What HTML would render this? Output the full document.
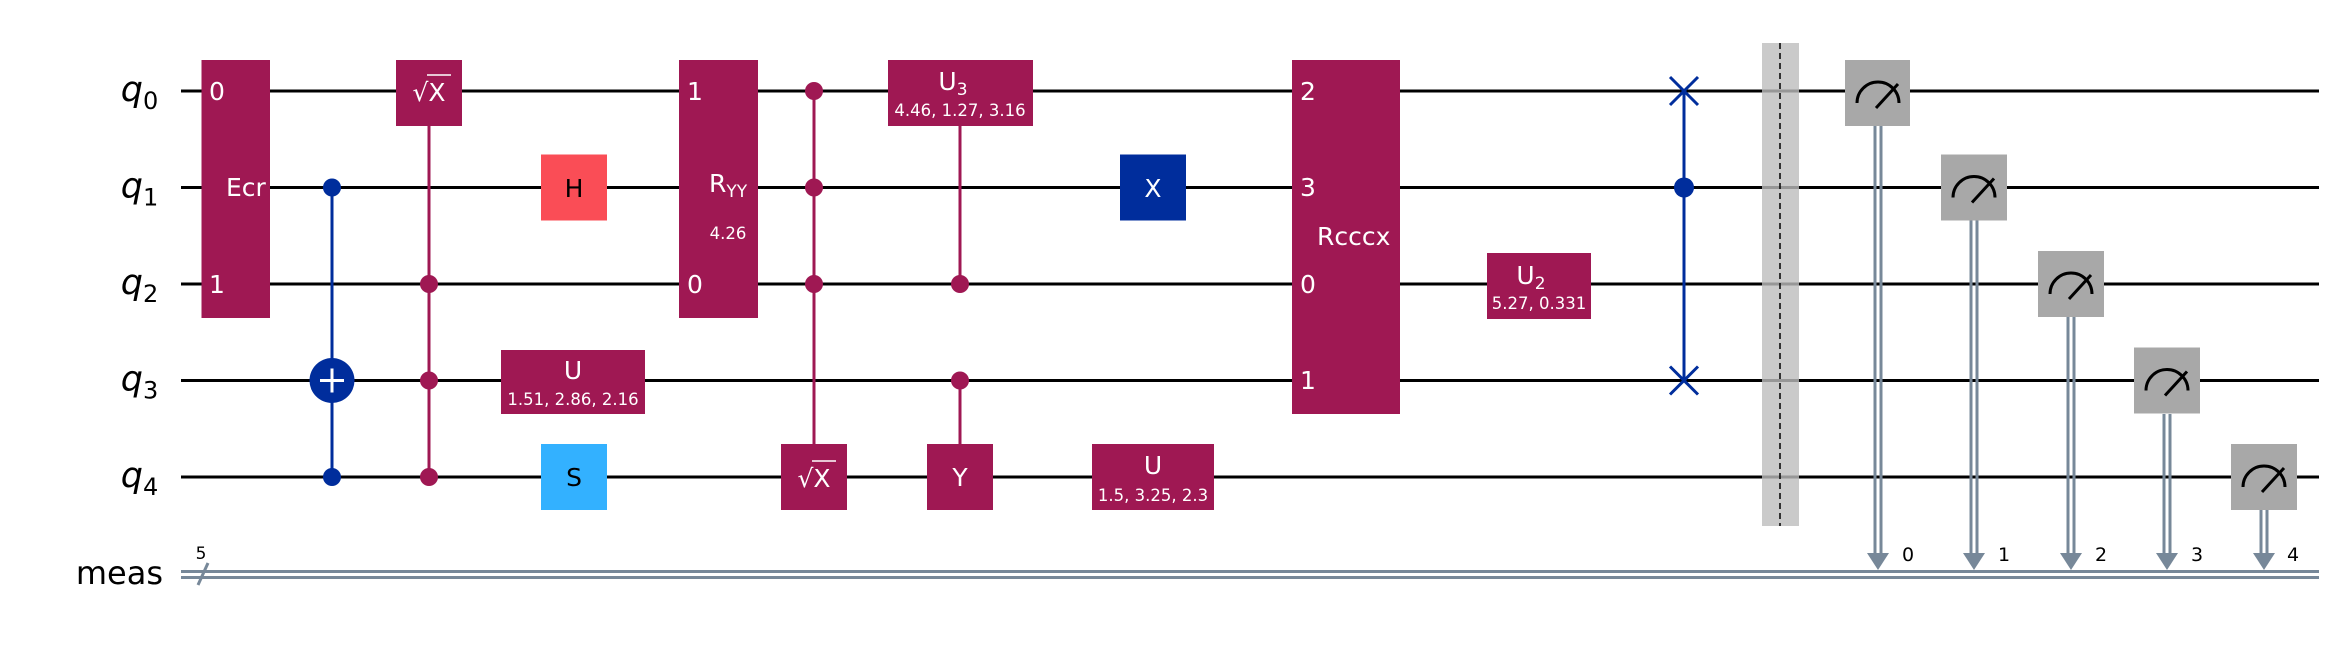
<!DOCTYPE html>
<html><head><meta charset="utf-8"><style>html,body{margin:0;padding:0;background:#fff}svg{display:block}</style></head>
<body>
<svg width="2342" height="648" viewBox="0 0 2342 648" xmlns="http://www.w3.org/2000/svg" font-family="DejaVu Sans, Liberation Sans, sans-serif">
<rect width="2342" height="648" fill="#fff"/>
<g stroke="#000" stroke-width="3">
<line x1="181" y1="91" x2="2319" y2="91"/>
<line x1="181" y1="187.5" x2="2319" y2="187.5"/>
<line x1="181" y1="284" x2="2319" y2="284"/>
<line x1="181" y1="380.5" x2="2319" y2="380.5"/>
<line x1="181" y1="477" x2="2319" y2="477"/>
</g>
<g stroke="#778899" stroke-width="3">
<line x1="181" y1="571.5" x2="2319" y2="571.5"/>
<line x1="181" y1="577.5" x2="2319" y2="577.5"/>
<line x1="198" y1="585" x2="208" y2="563"/>
</g>
<text x="201" y="559" font-size="17" text-anchor="middle">5</text>
<g font-size="35" font-style="italic" text-anchor="end">
<text x="143" y="101">q</text><text x="143" y="197.5">q</text><text x="143" y="294">q</text><text x="143" y="390.5">q</text><text x="143" y="487">q</text>
</g>
<g font-size="24">
<text x="143" y="109">0</text><text x="143" y="205.5">1</text><text x="143" y="302">2</text><text x="143" y="398.5">3</text><text x="143" y="495">4</text>
</g>
<text x="163" y="584" font-size="32" text-anchor="end">meas</text>

<g font-size="25">
<rect x="201.5" y="60" width="68.5" height="258" fill="#9f1853"/>
<g fill="#fff">
<text x="209" y="100">0</text><text x="209" y="293">1</text><text x="226" y="196">Ecr</text>
</g>
<line x1="332" y1="187.5" x2="332" y2="477" stroke="#002d9c" stroke-width="3"/>
<circle cx="332" cy="187.5" r="9" fill="#002d9c"/>
<circle cx="332" cy="477" r="9" fill="#002d9c"/>
<circle cx="332" cy="380.5" r="22.5" fill="#002d9c"/>
<line x1="320" y1="380.5" x2="344" y2="380.5" stroke="#fff" stroke-width="3"/>
<line x1="332" y1="368.5" x2="332" y2="392.5" stroke="#fff" stroke-width="3"/>
<line x1="429" y1="91" x2="429" y2="477" stroke="#9f1853" stroke-width="3"/>
<circle cx="429" cy="284" r="9" fill="#9f1853"/><circle cx="429" cy="380.5" r="9" fill="#9f1853"/><circle cx="429" cy="477" r="9" fill="#9f1853"/>
<rect x="396" y="60" width="66" height="66" fill="#9f1853"/>
<text x="429" y="101" fill="#fff" text-anchor="middle">√X</text>
<line x1="427" y1="75" x2="451" y2="75" stroke="#fff" stroke-width="1.5"/>
<rect x="541" y="154.5" width="66" height="66" fill="#fa4d56"/>
<text x="574" y="197" text-anchor="middle">H</text>
<rect x="501" y="350" width="144" height="64" fill="#9f1853"/>
<text x="573" y="379" fill="#fff" text-anchor="middle">U</text>
<text x="573" y="405" fill="#fff" font-size="16.5" text-anchor="middle">1.51, 2.86, 2.16</text>
<rect x="541" y="444" width="66" height="66" fill="#33b1ff"/>
<text x="574" y="486" text-anchor="middle">S</text>
<rect x="679" y="60" width="79" height="258" fill="#9f1853"/>
<g fill="#fff">
<text x="687" y="100">1</text><text x="687" y="293">0</text>
<text x="709" y="192">R<tspan font-size="17" dy="5">YY</tspan></text>
<text x="728" y="239" font-size="16.5" text-anchor="middle">4.26</text>
</g>
<line x1="814" y1="91" x2="814" y2="477" stroke="#9f1853" stroke-width="3"/>
<circle cx="814" cy="91" r="9" fill="#9f1853"/><circle cx="814" cy="187.5" r="9" fill="#9f1853"/><circle cx="814" cy="284" r="9" fill="#9f1853"/>
<rect x="781" y="444" width="66" height="66" fill="#9f1853"/>
<text x="814" y="487" fill="#fff" text-anchor="middle">√X</text>
<line x1="812" y1="461" x2="836" y2="461" stroke="#fff" stroke-width="1.5"/>
<line x1="960" y1="91" x2="960" y2="284" stroke="#9f1853" stroke-width="3"/>
<circle cx="960" cy="284" r="9" fill="#9f1853"/>
<rect x="888" y="60" width="145" height="66" fill="#9f1853"/>
<text x="953" y="90" fill="#fff" text-anchor="middle">U<tspan font-size="17" dy="5">3</tspan></text>
<text x="960" y="116" fill="#fff" font-size="16.5" text-anchor="middle">4.46, 1.27, 3.16</text>
<line x1="960" y1="380.5" x2="960" y2="477" stroke="#9f1853" stroke-width="3"/>
<circle cx="960" cy="380.5" r="9" fill="#9f1853"/>
<rect x="927" y="444" width="66" height="66" fill="#9f1853"/>
<text x="960" y="486" fill="#fff" text-anchor="middle">Y</text>
<rect x="1120" y="154.5" width="66" height="66" fill="#002d9c"/>
<text x="1153" y="197" fill="#fff" text-anchor="middle">X</text>
<rect x="1092" y="444" width="122" height="66" fill="#9f1853"/>
<text x="1153" y="474" fill="#fff" text-anchor="middle">U</text>
<text x="1153" y="501" fill="#fff" font-size="16.5" text-anchor="middle">1.5, 3.25, 2.3</text>
<rect x="1292" y="60" width="108" height="354" fill="#9f1853"/>
<g fill="#fff">
<text x="1300" y="100">2</text><text x="1300" y="196">3</text><text x="1300" y="293">0</text><text x="1300" y="389">1</text>
<text x="1317" y="245">Rcccx</text>
</g>
<rect x="1487" y="253" width="104" height="66" fill="#9f1853"/>
<text x="1531" y="284" fill="#fff" text-anchor="middle">U<tspan font-size="17" dy="5">2</tspan></text>
<text x="1539" y="309" fill="#fff" font-size="16.5" text-anchor="middle">5.27, 0.331</text>
</g>
<line x1="1684" y1="91" x2="1684" y2="380.5" stroke="#002d9c" stroke-width="3"/>
<circle cx="1684" cy="187.5" r="10" fill="#002d9c"/>
<g stroke="#002d9c" stroke-width="3">
<line x1="1670" y1="77" x2="1698" y2="105"/><line x1="1670" y1="105" x2="1698" y2="77"/>
<line x1="1670" y1="366.5" x2="1698" y2="394.5"/><line x1="1670" y1="394.5" x2="1698" y2="366.5"/>
</g>
<rect x="1762" y="43" width="37" height="483" fill="#bdbdbd" fill-opacity="0.8"/>
<line x1="1780" y1="43" x2="1780" y2="526" stroke="#000" stroke-width="1.5" stroke-dasharray="6,4"/>
<g stroke="#778899" stroke-width="3" fill="none">
<line x1="1875" y1="126" x2="1875" y2="556"/><line x1="1881" y1="126" x2="1881" y2="556"/>
<line x1="1971" y1="220" x2="1971" y2="556"/><line x1="1977" y1="220" x2="1977" y2="556"/>
<line x1="2068" y1="317" x2="2068" y2="556"/><line x1="2074" y1="317" x2="2074" y2="556"/>
<line x1="2164" y1="414" x2="2164" y2="556"/><line x1="2170" y1="414" x2="2170" y2="556"/>
<line x1="2261" y1="510" x2="2261" y2="556"/><line x1="2267" y1="510" x2="2267" y2="556"/>
</g>
<g fill="#778899">
<polygon points="1867,553 1889,553 1878,570"/>
<polygon points="1963,553 1985,553 1974,570"/>
<polygon points="2060,553 2082,553 2071,570"/>
<polygon points="2156,553 2178,553 2167,570"/>
<polygon points="2253,553 2275,553 2264,570"/>
</g>
<g font-size="19">
<text x="1902" y="561">0</text><text x="1998" y="561">1</text><text x="2095" y="561">2</text><text x="2191" y="561">3</text><text x="2287" y="561">4</text>
</g>
<g fill="#a8a8a8">
<rect x="1845" y="60" width="65" height="66"/>
<rect x="1941" y="154.5" width="66" height="66"/>
<rect x="2038" y="251" width="66" height="66"/>
<rect x="2134" y="347.5" width="66" height="66"/>
<rect x="2231" y="444" width="66" height="66"/>
</g>
<g stroke="#000" stroke-width="3" fill="none">
<path d="M1857,103 A21,21 0 0 1 1899,103"/><line x1="1876" y1="108" x2="1898" y2="84"/>
<path d="M1953,197.5 A21,21 0 0 1 1995,197.5"/><line x1="1972" y1="202.5" x2="1994" y2="178.5"/>
<path d="M2050,294 A21,21 0 0 1 2092,294"/><line x1="2069" y1="299" x2="2091" y2="275"/>
<path d="M2146,390.5 A21,21 0 0 1 2188,390.5"/><line x1="2165" y1="395.5" x2="2187" y2="371.5"/>
<path d="M2243,487 A21,21 0 0 1 2285,487"/><line x1="2262" y1="492" x2="2284" y2="468"/>
</g>
</svg>
</body></html>
